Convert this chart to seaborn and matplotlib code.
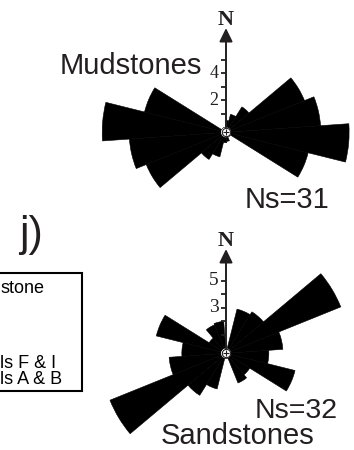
import numpy as np
import pandas as pd
import matplotlib
matplotlib.use("Agg")
import matplotlib.pyplot as plt
from matplotlib.patches import Rectangle
import seaborn as sns

# direction classes, 18 deg wide: azimuth of class centre (deg clockwise from N)
azimuth = [5, 23, 41, 59, 77, 95, 113, 131, 149, 167,
           185, 203, 221, 239, 257, 275, 293, 311, 329, 347]

# petal lengths (units of the N-axis scale)
mud_freq = [0.5, 1.0, 1.85, 5.9, 6.65, 8.75, 5.9, 0, 0, 0.3,
            0.4, 1.5, 2.0, 6.0, 6.8, 8.8, 5.85, 0, 0, 0]
sand_freq = [0, 3.0, 3.25, 8.8, 3.85, 2.8, 4.9, 1.7, 2.0, 0,
             0, 2.35, 3.3, 8.9, 3.85, 2.9, 4.95, 1.1, 1.9, 2.0]

mud_ticks = [1, 2, 3, 4, 5]
mud_tick_labels = ['', '2', '', '4', '']
sand_ticks = [1, 2, 3, 4, 5]
sand_tick_labels = ['', '', '3', '', '5']

legend_lines = ['stone', 'ls F & I', 'ls A & B']

ink = '#231f20'

sns.set_theme(style='white')
plt.rcParams['font.family'] = ['Liberation Sans', 'DejaVu Sans']

W, H = 354, 450
px_unit = 13.5          # pixels per unit along the N axis
r_off = 5               # hole in the middle (px)
rmax = 9.5
rorigin = -r_off / px_unit
R = px_unit * (rmax - rorigin)

fig = plt.figure(figsize=(W / 100, H / 100), dpi=100)
ax0 = fig.add_axes([0, 0, 1, 1])
ax0.set_xlim(0, W)
ax0.set_ylim(H, 0)
ax0.set_axis_off()


def draw_rose(cx, cy, freq, ticks, tick_labels, label_size):
    ax = fig.add_axes([(cx - R) / W, (H - cy - R) / H, 2 * R / W, 2 * R / H],
                      projection='polar')
    ax.set_theta_zero_location('N')
    ax.set_theta_direction(-1)
    df = pd.DataFrame({'theta': np.deg2rad(azimuth), 'freq': freq})
    sns.barplot(data=df, x='theta', y='freq', native_scale=True, width=1,
                color='black', saturation=1, edgecolor='black', linewidth=0.4,
                errorbar=None, ax=ax)
    ax.set_ylim(0, rmax)
    ax.set_rorigin(rorigin)
    ax.set_axis_off()

    # north arrow with its scale
    arrow_len = 7.35
    ax.annotate('', xy=(0, arrow_len), xytext=(0, 0),
                arrowprops=dict(arrowstyle='-|>,head_length=0.45,head_width=0.22',
                                mutation_scale=18, color=ink, lw=1.4,
                                shrinkA=0, shrinkB=0),
                annotation_clip=False)
    ax.annotate('N', xy=(0, arrow_len), xytext=(0, 2.4), textcoords='offset points',
                ha='center', va='baseline', family='Liberation Serif',
                fontweight='bold', fontsize=16, color=ink, annotation_clip=False)
    ax.plot(np.zeros(len(ticks)), ticks, ls='none', marker=0, ms=3.3, mew=1.3,
            color=ink, clip_on=False, zorder=4)
    for v, lab in zip(ticks, tick_labels):
        ax.annotate(lab, xy=(0, v), xytext=(-5.5, 0), textcoords='offset points',
                    ha='right', va='center', family='Liberation Serif',
                    fontsize=label_size, color=ink)

    # centre mark
    ax.plot(0.5, 0.5, transform=ax.transAxes, marker='o', ms=6, mfc='white',
            mec=ink, mew=0.8, clip_on=False, zorder=5)
    ax.plot(0.5, 0.5, transform=ax.transAxes, marker='+', ms=5, mew=0.8,
            color=ink, clip_on=False, zorder=6)
    return ax


draw_rose(226, 132.3, mud_freq, mud_ticks, mud_tick_labels, 13)
draw_rose(226, 353.3, sand_freq, sand_ticks, sand_tick_labels, 14)

ax0.text(202.5, 74, 'Mudstones', ha='right', va='baseline', fontsize=21, color=ink)
ax0.text(244.5, 208.3, 'Ns=31', ha='left', va='baseline', fontsize=21, color=ink)
ax0.text(255, 418, 'Ns=32', ha='left', va='baseline', fontsize=20.5, color=ink)
ax0.text(160.3, 444.5, 'Sandstones', ha='left', va='baseline', fontsize=21, color=ink)
ax0.text(19, 245.6, 'j)', ha='left', va='baseline', fontsize=31, color=ink)

# piece of the legend box cut by the left edge
ax0.add_patch(Rectangle((-20, 272.7), 101.7, 118, fill=False, ec='black', lw=1.5))
for txt, yb in zip(legend_lines, [293, 368.5, 384.5]):
    ax0.text(0.5, yb, txt, ha='left', va='baseline', fontsize=13, color='black')

fig.savefig('out.png', dpi=100)
